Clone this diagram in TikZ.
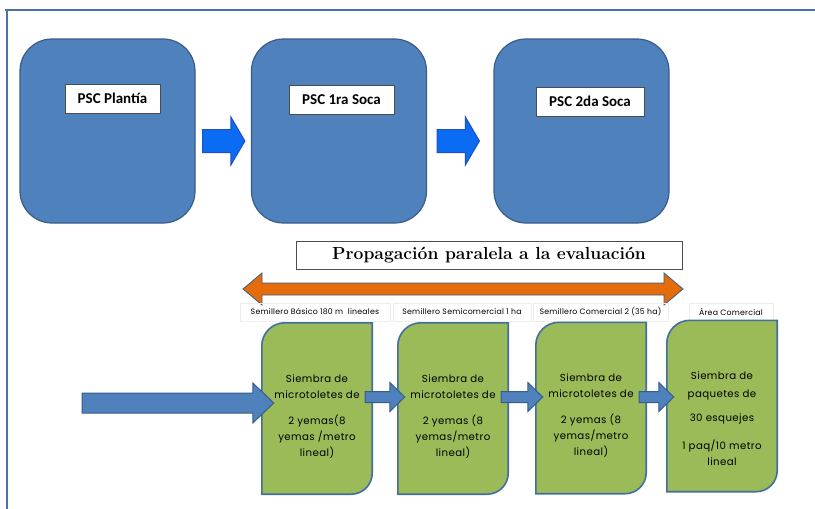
\documentclass[tikz,border=0pt]{standalone}
\usepackage{fontspec}
\usetikzlibrary{calc}
\newfontfamily\gotica{Poppins}
\newfontfamily\calibri{Carlito}
\definecolor{azulpsc}{HTML}{4F81BD}
\definecolor{bordepsc}{HTML}{385D8A}
\definecolor{azulvivo}{HTML}{0A6CF2}
\definecolor{bordevivo}{HTML}{1F4FC8}
\definecolor{verde}{HTML}{9BBB59}
\definecolor{naranja}{HTML}{E46C0A}
% block arrow: [style]{from}{to}{shaft half}{head half}{head length}
\newcommand{\flecha}[6][]{%
  \draw[#1] ($(#2)+(0,#4)$) -- ($(#3)+(-#6,#4)$) -- ($(#3)+(-#6,#5)$) -- (#3)
    -- ($(#3)+(-#6,-#5)$) -- ($(#3)+(-#6,-#4)$) -- ($(#2)+(0,-#4)$) -- cycle;}
\begin{document}
\begin{tikzpicture}[x=1pt,y=-1pt,
    marco/.style={draw=azulpsc!90!black,line width=2pt},
    psc/.style={draw=bordepsc,fill=azulpsc,line width=1.2pt,rounded corners=32pt,
      minimum width=175pt,minimum height=184pt},
    etiqueta/.style={draw=black!70,fill=white,line width=0.6pt,minimum height=29pt,
      inner sep=2pt,font=\calibri\bfseries\fontsize{15}{16}\selectfont},
    flechaazul/.style={draw=bordevivo,fill=azulvivo,line width=1pt},
    flechabaja/.style={draw=bordepsc,fill=azulpsc,line width=1pt},
    caja/.style={minimum width=110pt,minimum height=171pt,inner sep=0pt},
    siembra/.style={draw=azulpsc!85!black,fill=verde,line width=1.6pt},
    texto/.style={align=center,font=\gotica\fontsize{10.2}{16}\selectfont\addfontfeature{LetterSpace=4}},
    semillero/.style={draw=black!7,line width=0.5pt,minimum height=18pt,inner sep=0pt,
      font=\gotica\fontsize{7.8}{8}\selectfont\addfontfeature{LetterSpace=3}}]
  \useasboundingbox (0,0) rectangle (815,509);
  \fill[white] (0,0) rectangle (815,509);
  \draw[marco] (5,10) -- (815,10);
  \draw[marco] (7,10) -- (7,509);

  % evaluation of the plant cane and ratoons
  \node[psc] (plantia) at (107.5,131) {};
  \node[psc] (soca1) at (339,131) {};
  \node[psc] (soca2) at (581.5,131) {};
  \node[etiqueta,minimum width=95pt] at (112.5,98.5) {PSC Plantía};
  \node[etiqueta,minimum width=105pt] at (341.5,99.5) {PSC 1ra Soca};
  \node[etiqueta,minimum width=108pt] at (590,101.5) {PSC 2da Soca};
  \flecha[flechaazul]{$(plantia.east)+(7,10)$}{$(soca1.west)+(-6,10)$}{11.5}{24}{14}
  \flecha[flechaazul]{$(soca1.east)+(10,10)$}{$(soca2.west)+(-14,10)$}{11.5}{24}{14}

  % propagation
  \node[draw=black!70,line width=0.6pt,minimum width=386pt,minimum height=28pt,
    font=\bfseries\fontsize{17.5}{18}\selectfont] (prop) at (489,255.5)
    {\addfontfeature{LetterSpace=8}Propagación paralela a la evaluación};
  \coordinate (izq) at (243,289);
  \coordinate (der) at (683,289);
  \coordinate (mitad) at ($(izq)!0.5!(der)$);
  \flecha[draw=none,fill=naranja]{mitad}{der}{6}{16}{19}
  \flecha[draw=none,fill=naranja]{mitad}{izq}{6}{16}{-19}
  \draw[bordepsc,line width=0.8pt] ($(izq)+(19,-6)$) -- ($(der)+(-19,-6)$) -- ($(der)+(-19,-16)$)
    -- (der) -- ($(der)+(-19,16)$) -- ($(der)+(-19,6)$) -- ($(izq)+(19,6)$)
    -- ($(izq)+(19,16)$) -- (izq) -- ($(izq)+(19,-16)$) -- cycle;

  \node[semillero,minimum width=150pt] (lab1) at (315,312) {Semillero Básico 180 m\ \ lineales};
  \node[semillero,minimum width=138pt] (lab2) at (462,312) {Semillero Semicomercial 1 ha};
  \node[semillero,minimum width=135pt] (lab3) at (600.5,312) {Semillero Comercial 2 (35 ha)};
  \node[semillero,minimum width=84pt] (lab4) at (731,312) {Área Comercial};

  % seed beds
  \foreach \nm/\xc/\yc/\dy/\txt in {basico/317/408.5/8/{Siembra de\\microtoletes de\\[10pt]2 yemas(8\\yemas /metro\\lineal)},
      semicom/453/408.5/8/{Siembra de\\microtoletes de\\[10pt]2 yemas (8\\yemas/metro\\lineal)},
      comercial/591/408/8/{Siembra de\\microtoletes de\\[10pt]2 yemas (8\\yemas/metro\\lineal)},
      area/722/406/13/{Siembra de\\[2pt]paquetes de\\[8pt]30 esquejes\\[12pt]1 paq/10 metro\\lineal}}
  {
    \node[caja] (\nm) at (\xc,\yc) {};
    \draw[siembra] (\nm.south west) -- ([yshift=-23pt]\nm.north west)
      arc[start angle=180,end angle=90,radius=23pt] -- (\nm.north east)
      -- ([yshift=21pt]\nm.south east) arc[start angle=0,end angle=-90,radius=21pt] -- cycle;
    \node[texto] at ($(\nm)+(0,\dy)$) {\txt};
  }
  \coordinate (entrada) at (82,403);
  \flecha[flechabaja]{entrada}{$(basico.west)+(12,-5.5)$}{10}{20}{21}
  \flecha[flechabaja]{$(basico.east)+(-7,-11.5)$}{$(semicom.west)+(7,-11.5)$}{5.5}{14.5}{15}
  \flecha[flechabaja]{$(semicom.east)+(-7,-11.5)$}{$(comercial.west)+(7,-11)$}{5.5}{14.5}{15}
  \flecha[flechabaja]{$(comercial.east)+(-7,-11)$}{$(area.west)+(7,-9)$}{5.5}{14.5}{15}
\end{tikzpicture}
\end{document}
